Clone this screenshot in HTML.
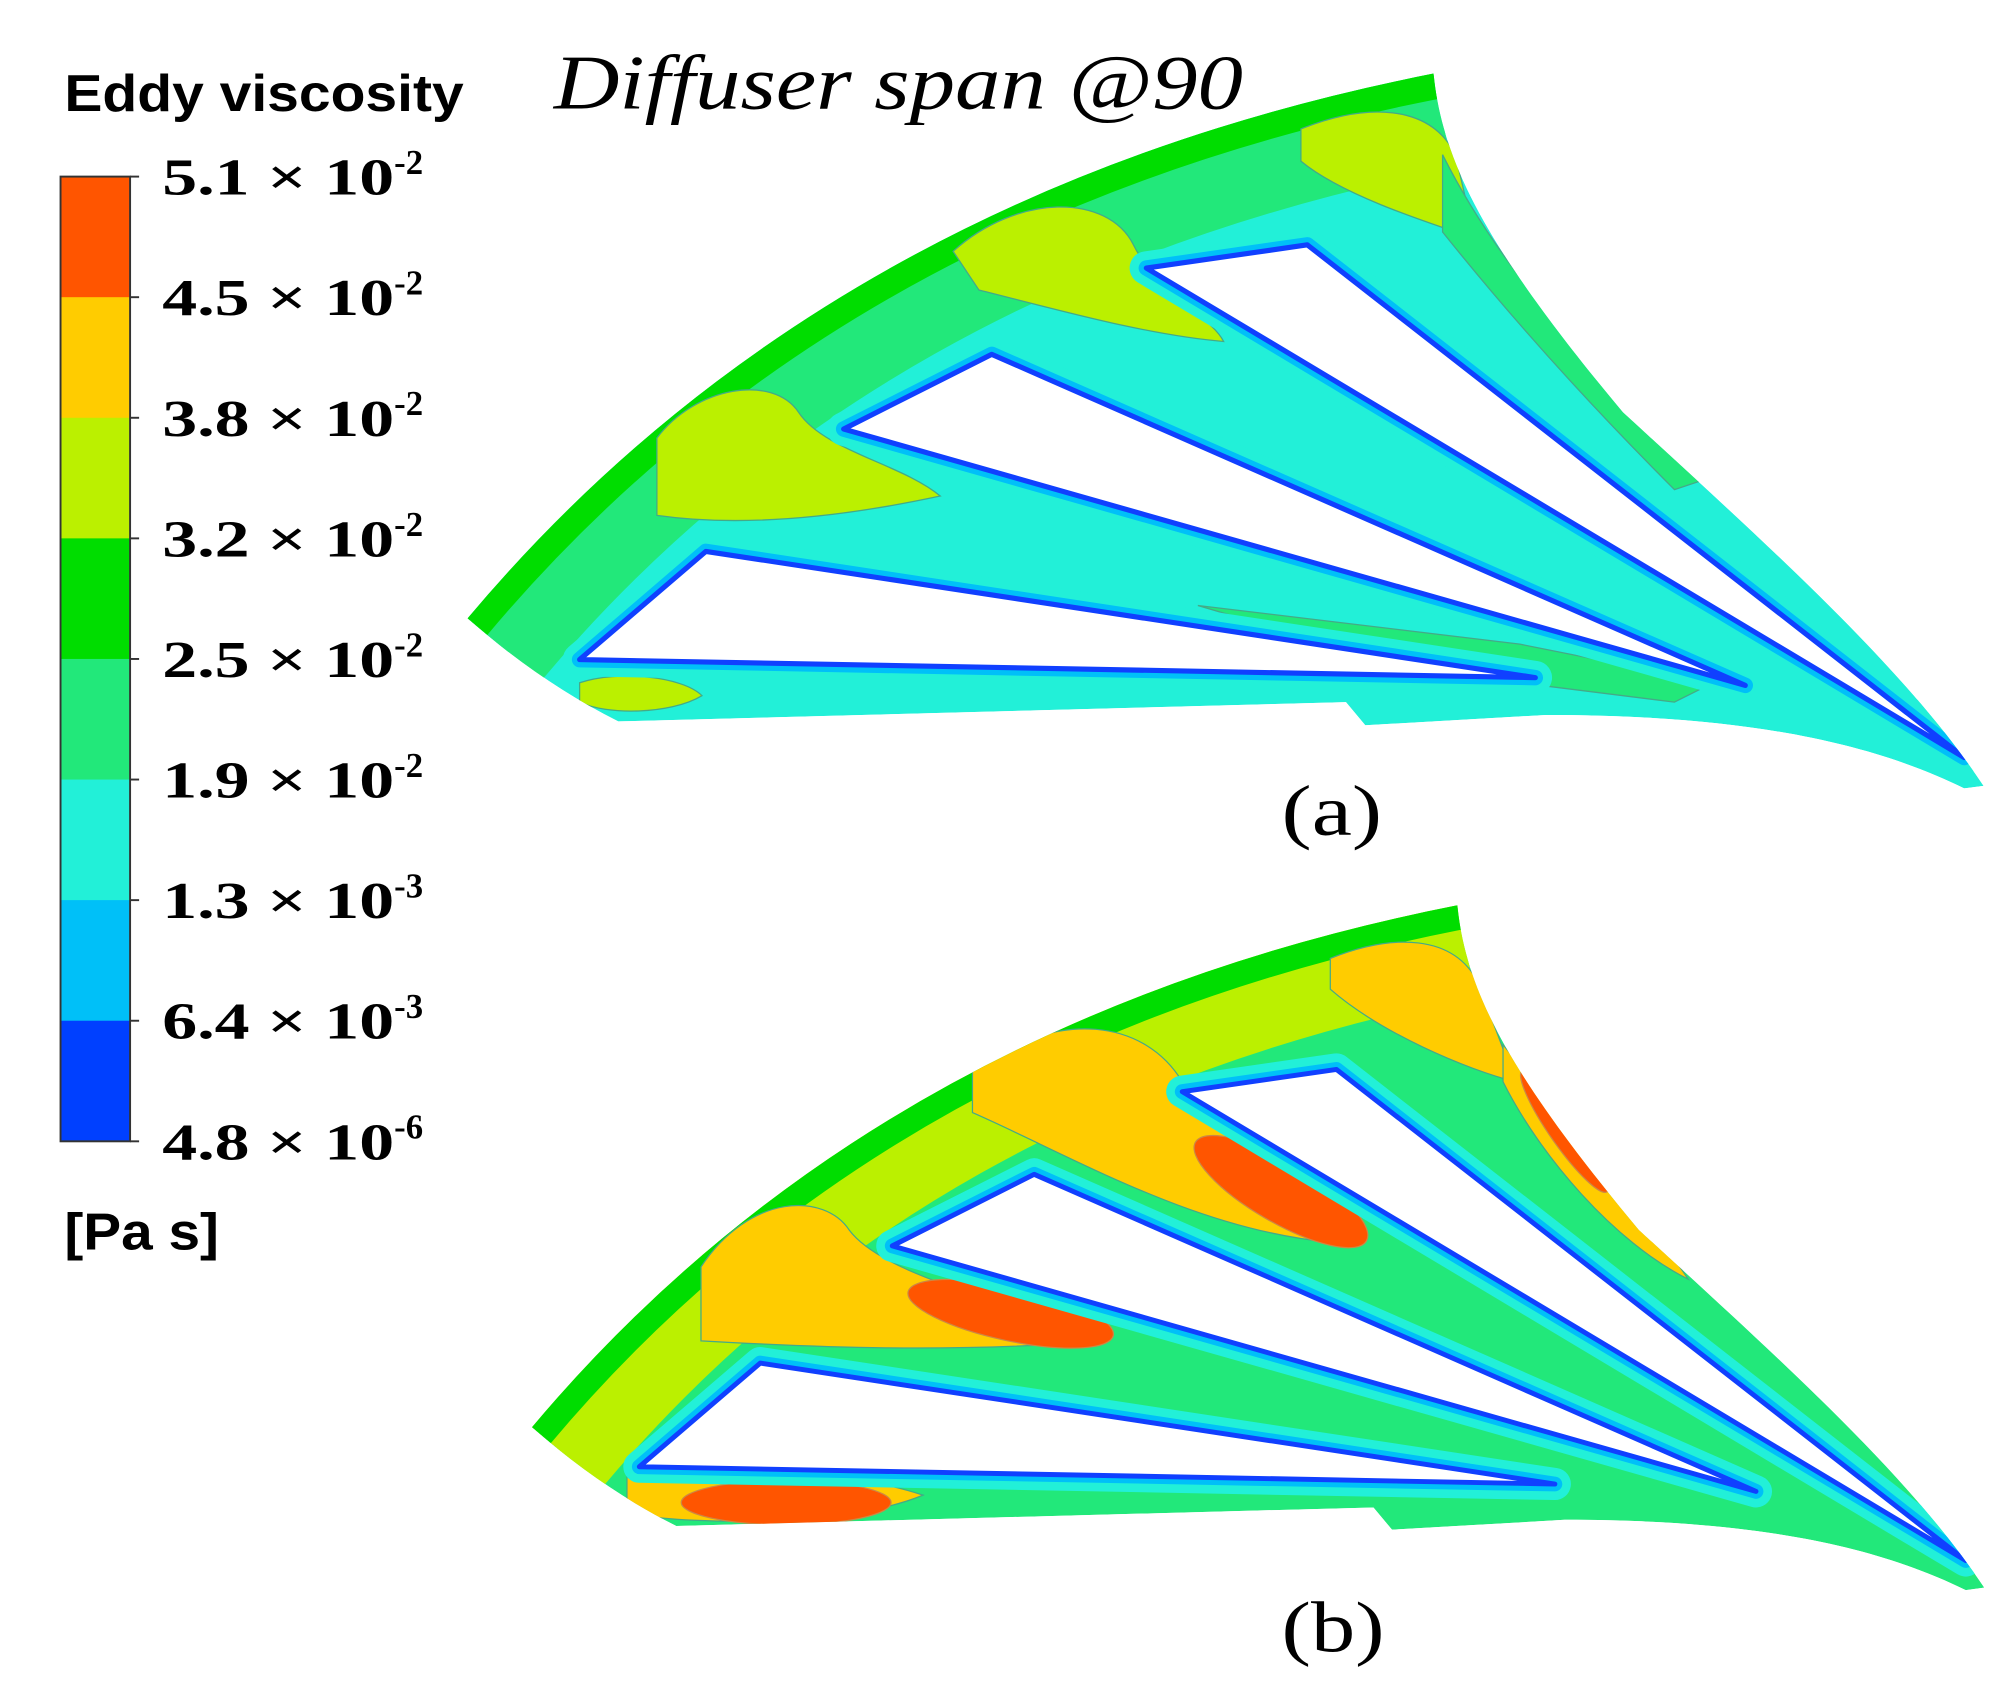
<!DOCTYPE html>
<html><head><meta charset="utf-8"><style>
html,body{margin:0;padding:0;background:#fff;}
svg{display:block;}
</style></head><body>
<svg id="fig" width="1999" height="1685" viewBox="0 0 1552 1308" xmlns="http://www.w3.org/2000/svg">
<defs>
<clipPath id="outerClip"><path d="M363,480 Q640,150 1113,57 C1120,130 1160,200 1260,320 C1380,430 1480,520 1540,610 L1525,612 C1450,575 1350,555 1200,555 L1060,563 L1045,545 L480,560 Q420,530 363,480 Z"/></clipPath>
</defs>
<text x="50" y="86" font-family="Liberation Sans, sans-serif" font-weight="bold" font-size="40" textLength="310" lengthAdjust="spacingAndGlyphs">Eddy viscosity</text>
<text x="430" y="84" font-family="Liberation Serif, serif" font-style="italic" font-size="60" textLength="535" lengthAdjust="spacingAndGlyphs">Diffuser span @90</text>
<g id="legend"></g>
<text x="50" y="970" font-family="Liberation Sans, sans-serif" font-weight="bold" font-size="40" textLength="120" lengthAdjust="spacingAndGlyphs">[Pa  s]</text>
<g id="panelA"></g>
<g id="panelB" transform="translate(413,1108) scale(0.958) translate(-363,-480)"></g>
<text x="995" y="648" font-family="Liberation Serif, serif" font-size="56" textLength="78" lengthAdjust="spacingAndGlyphs">(a)</text>
<text x="995" y="1282" font-family="Liberation Serif, serif" font-size="56" textLength="80" lengthAdjust="spacingAndGlyphs">(b)</text>
</svg>
<script>
const bandColors = ["#ff5500","#ffcc00","#bbf000","#00dd00","#22e87a","#22f0d8","#00c0f8","#0040ff"];
const tickMant = ["5.1","4.5","3.8","3.2","2.5","1.9","1.3","6.4","4.8"];
const tickExp = ["-2","-2","-2","-2","-2","-2","-3","-3","-6"];
const NS = "http://www.w3.org/2000/svg";
function el(tag, attrs, parent){const e=document.createElementNS(NS,tag);for(const k in attrs)e.setAttribute(k,attrs[k]);parent.appendChild(e);return e;}
const leg=document.getElementById('legend');
const top0=137, bot0=886, lx=47, lw=54;
const bh=(bot0-top0)/bandColors.length;
bandColors.forEach((c,i)=>{
  const r=el('rect',{x:lx,y:top0+i*bh,width:lw,height:bh+0.5,fill:c},leg);
  
  
});
el('rect',{x:lx,y:top0,width:lw,height:bot0-top0,fill:'none',stroke:'#333','stroke-width':1.5},leg);
tickMant.forEach((m,i)=>{
  const y=top0+i*bh;
  el('line',{x1:lx+lw,x2:lx+lw+7,y1:y,y2:y,stroke:'#333','stroke-width':1.5},leg);
  const t=el('text',{x:126,y:y+14,'font-family':'Liberation Serif, serif','font-weight':'bold','font-size':40},leg);
  
  
  const a=el('tspan',{textLength:180,lengthAdjust:'spacingAndGlyphs'},t); a.textContent=m+" \u00d7 10";
  const s=el('tspan',{dy:-16,'font-size':27},t); s.textContent=tickExp[i];
});
const outer="M363,480 Q640,150 1113,57 C1120,130 1160,200 1260,320 C1380,430 1480,520 1540,610 L1525,612 C1450,575 1350,555 1200,555 L1060,563 L1045,545 L480,560 Q420,530 363,480 Z";
const holes=[
 "M890,208 L1015,190 L1525,588 Z",
 "M655,333 L770,275 L1355,532 Z",
 "M450,512 L548,428 L1192,526 Z"
];
function drawPanel(g, base, arcBand, blobs, hot){
  const inner=el('g',{'clip-path':'url(#outerClip)'},g);
  el('path',{d:outer,fill:base},inner);
  el('path',{d:"M363,480 Q640,150 1113,57",fill:'none',stroke:arcBand[0],'stroke-width':150},inner);
  el('path',{d:"M363,480 Q640,150 1113,57",fill:'none',stroke:arcBand[1],'stroke-width':40},inner);
  blobs.forEach(b=>{const p=el('path',{d:b[0],fill:b[1],stroke:'#4a8','stroke-width':1},inner);
    });
  hot.forEach(h=>{const e=el('ellipse',{cx:h[0],cy:h[1],rx:h[2],ry:h[3],transform:`rotate(${h[4]} ${h[0]} ${h[1]})`,fill:'#ff5500',stroke:'#c84','stroke-width':1},inner);
    });
  holes.forEach(h=>{
    el('path',{d:h,fill:'none',stroke:'#22f0d8','stroke-width':26,'stroke-linejoin':'round'},inner);
    el('path',{d:h,fill:'none',stroke:'#00c0f8','stroke-width':12,'stroke-linejoin':'round'},inner);
    const p=el('path',{d:h,fill:'#fff',stroke:'#1040ff','stroke-width':4,'stroke-linejoin':'round'},inner);
    
  });
}
drawPanel(document.getElementById('panelA'),"#22f0d8",["#22e87a","#00dd00"],[
 ["M1010,100 C1060,80 1110,80 1130,120 L1145,185 C1100,170 1040,150 1010,125 Z","#bbf000"],
 ["M740,195 C790,150 860,150 880,190 C900,230 940,245 950,265 C890,260 820,240 760,225 Z","#bbf000"],
 ["M510,340 C540,300 600,290 620,320 C640,350 700,360 730,385 C660,400 580,410 510,400 Z","#bbf000"],
 ["M450,530 C480,520 530,525 545,540 C520,555 470,555 450,545 Z","#bbf000"],
 ["M930,470 L1180,500 L1330,530 L1300,545 L1100,520 Z","#22e87a"],
 ["M1120,120 C1170,220 1250,300 1330,370 L1300,380 C1220,300 1160,230 1120,180 Z","#22e87a"]
],[]);
drawPanel(document.getElementById('panelB'),"#22e87a",["#bbf000","#00dd00"],[
 ["M1010,100 C1060,80 1110,80 1130,120 L1160,200 C1120,190 1050,160 1010,125 Z","#ffcc00"],
 ["M720,190 C790,140 860,150 890,200 C930,250 990,300 1010,330 C900,320 800,260 720,225 Z","#ffcc00"],
 ["M500,350 C540,290 600,290 620,320 C650,360 760,380 830,410 C700,420 590,415 500,410 Z","#ffcc00"],
 ["M440,520 C500,505 620,515 680,535 C620,560 500,560 440,550 Z","#ffcc00"],
 ["M1150,170 C1200,230 1260,300 1300,360 C1240,330 1180,260 1150,200 Z","#ffcc00"]
],[
 [970,289,80,25,30],[751,388,85,22,12],[569,541,85,18,0],[1200,240,60,12,55]
]);
</script>
</body></html>
